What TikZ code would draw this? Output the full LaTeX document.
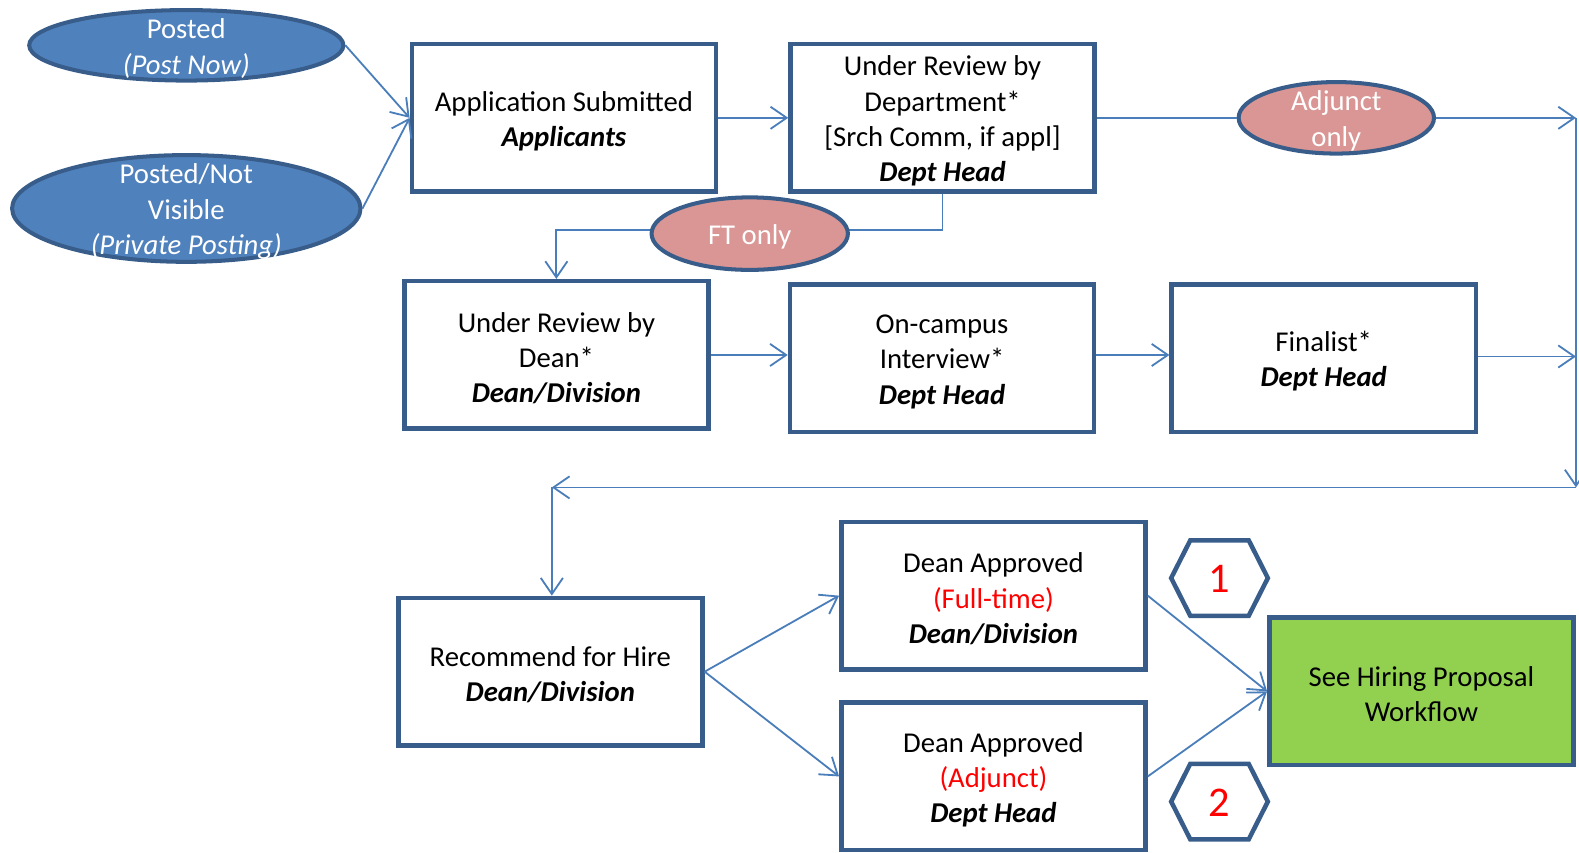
\documentclass[tikz,border=0pt]{standalone}
\usepackage{fontspec}
\setmainfont{Carlito}
\usetikzlibrary{arrows.meta,shapes.geometric,calc}
\definecolor{bordc}{HTML}{385D8A}
\definecolor{linec}{HTML}{4A7EBB}
\definecolor{blfill}{HTML}{4F81BD}
\definecolor{pkfill}{HTML}{D99694}
\definecolor{grfill}{HTML}{92D050}
\newcommand\bxi[1]{\textbf{\textit{#1}}}
\newcommand\ts{\rule{0pt}{26pt}}
\tikzset{
 box/.style={draw=bordc, line width=4.5pt, fill=white, minimum width=302pt, minimum height=146.5pt, align=center, inner sep=2pt, font=\fontsize{28.5}{35}\selectfont},
 ell/.style={ellipse, draw=bordc, line width=4pt, inner sep=0pt},
 eltext/.style={text=white, align=center, font=\fontsize{28.5}{35}\selectfont},
 arr/.style={draw=linec, line width=1.8pt, -{Straight Barb[length=16pt,width=22pt]}},
 conn/.style={draw=linec, line width=1.8pt},
 hexb/.style={draw=bordc, line width=4.5pt, line join=miter},
 numtxt/.style={text=red, font=\fontsize{42}{50}\selectfont, inner sep=0pt},
}
\begin{document}
\begin{tikzpicture}[x=1pt,y=-1pt]
\useasboundingbox (0,0) rectangle (1568,847);
% ellipses
\node[ell, fill=blfill, minimum width=312pt, minimum height=70pt,
  label={[eltext]center:\ts Posted\\\textit{(Post Now)}}] (post) at (185,45) {};
\node[ell, fill=blfill, minimum width=346pt, minimum height=106pt,
  label={[eltext]center:\ts Posted/Not\\Visible\\\textit{(Private Posting)}}] (priv) at (185,207) {};
% boxes
\node[box] (app) at (560,117) {\ts Application Submitted\\\bxi{Applicants}};
\node[box] (dept) at (936,117) {\ts Under Review by\\Department*\\{[}Srch Comm, if appl{]}\\\bxi{Dept Head}};
\node[box] (dean) at (552.5,352.5) {\ts Under Review by\\Dean*\\\bxi{Dean/Division}};
\node[box] (camp) at (935.5,355.5) {\ts On-campus\\Interview*\\\bxi{Dept Head}};
\node[box] (fin) at (1314.5,355.5) {\ts Finalist*\\\bxi{Dept Head}};
\node[box] (rec) at (546.5,667) {\ts Recommend for Hire\\\bxi{Dean/Division}};
\node[box] (ft) at (986.5,591.5) {\ts Dean Approved\\\textcolor{red}{(Full-time)}\\\bxi{Dean/Division}};
\node[box] (adj) at (986.5,771) {\ts Dean Approved\\\textcolor{red}{(Adjunct)}\\\bxi{Dept Head}};
\node[box, fill=grfill] (hire) at (1411.5,686.5) {\ts See Hiring Proposal\\Workflow};
% pink ellipses
\node[ell, fill=pkfill, minimum width=194pt, minimum height=71pt,
  label={[eltext]center:\ts Adjunct\\only}] (adjo) at (1327,117) {};
% trunk coordinates
\coordinate (R1) at (1565,117);
\coordinate (R2) at (1565,354);
\coordinate (R3) at (1565,484);
\coordinate (L1) at (548,484);
% connectors
\draw[arr] (post.east) -- (app.west);
\draw[arr] (priv.east) -- (app.west);
\draw[arr] (app.east) -- (dept.west);
\draw[conn] (dept.east) -- (adjo.west);
\draw[arr] (adjo.east) -- (R1);
\draw[arr] (R1) -- (R3);
\draw[arr] (fin.east |- R2) -- (R2);
\draw[arr] (R3) -- (L1);
\draw[arr] (L1) -- (L1 |- rec.north);
\draw[conn] (dept.south) |- (744,228);
\draw[arr] (744,228) -| (dean.north);
\node[ell, fill=pkfill, minimum width=195pt, minimum height=72pt,
  label={[eltext]center:\ts FT only}] (fto) at (744.5,232) {};
\draw[arr] (dean.east) -- (dean.east -| camp.west);
\draw[arr] (camp.east |- dean.east) -- (fin.west |- dean.east);
\draw[arr] (rec.east) -- (ft.west);
\draw[arr] (rec.east) -- (adj.west);
\draw[arr] (ft.east) -- (hire.west);
\draw[arr] (adj.east) -- (hire.west);
% hexagons
\node[numtxt] (h1) at (1211,575) {1};
\draw[hexb] ($(h1.center)+(-48,-1)$) -- ++(19,-37.5) -- ++(58,0) -- ++(19,37.5) -- ++(-19,37.5) -- ++(-58,0) -- cycle;
\node[numtxt] (h2) at (1211,797) {2};
\draw[hexb] ($(h2.center)+(-48,-1)$) -- ++(19,-37.5) -- ++(58,0) -- ++(19,37.5) -- ++(-19,37.5) -- ++(-58,0) -- cycle;
\end{tikzpicture}
\end{document}
